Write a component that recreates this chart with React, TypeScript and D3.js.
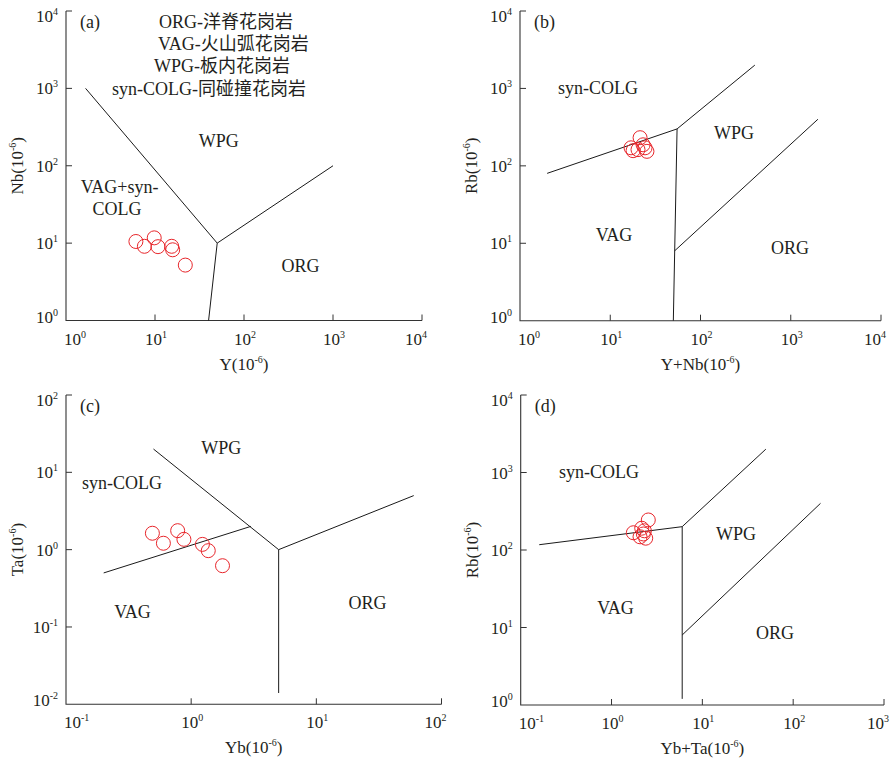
import React from "react";
import * as d3 from "d3";

// tectonic discrimination diagrams (Pearce et al.), sample values

// (a) Nb vs Y
const aY = [6.1, 7.6, 9.8, 10.8, 15.4, 15.8, 21.9];
const aNb = [10.5, 9.1, 11.7, 9.0, 9.1, 8.2, 5.2];
// (b) Rb vs Y+Nb
const bYNb = [21.4, 17.0, 17.9, 23.1, 25.5, 20.3, 24.3];
const bRb = [231, 171, 157, 187, 154, 162, 171];
// (c) Ta vs Yb
const cYb = [0.49, 0.6, 0.78, 0.875, 1.23, 1.37, 1.78];
const cTa = [1.63, 1.21, 1.76, 1.36, 1.17, 0.97, 0.62];
// (d) Rb vs Yb+Ta
const dYbTa = [2.54, 1.74, 2.15, 2.24, 2.38, 2.06, 2.3];
const dRb = [244, 167, 191, 161, 142, 148, 177];

// field boundaries, [x, y] pairs
const aLines = [
  [[1.66, 1000], [50, 10], [1000, 100]],
  [[50, 10], [40, 1]],
];
const bLines = [
  [[2, 80], [55, 300], [400, 2000]],
  [[55, 300], [50, 1]],
  [[51.8, 8], [2000, 400]],
];
const cLines = [
  [[0.2, 0.5], [3, 2]],
  [[0.5, 20], [5, 1], [60, 5]],
  [[5, 1], [5, 0.014]],
];
const dLines = [
  [[0.16, 117], [6, 200], [50, 2000]],
  [[6, 200], [6, 1.2]],
  [[6, 8], [200, 400]],
];

// decade exponents on the axes
const aXExp = [0, 1, 2, 3, 4];
const aYExp = [0, 1, 2, 3, 4];
const bXExp = [0, 1, 2, 3, 4];
const bYExp = [0, 1, 2, 3, 4];
const cXExp = [-1, 0, 1, 2];
const cYExp = [-2, -1, 0, 1, 2];
const dXExp = [-1, 0, 1, 2, 3];
const dYExp = [0, 1, 2, 3, 4];

// field names, placed in data units
const aFields = [
  { t: "WPG", x: 52, y: 206 },
  { t: "VAG+syn-", x: 4.0, y: 53 },
  { t: "COLG", x: 3.74, y: 28 },
  { t: "ORG", x: 431, y: 5.07 },
];
const bFields = [
  { t: "syn-COLG", x: 7.3, y: 1000 },
  { t: "WPG", x: 235, y: 267 },
  { t: "VAG", x: 11, y: 12.8 },
  { t: "ORG", x: 981, y: 8.8 },
];
const cFields = [
  { t: "WPG", x: 1.74, y: 20.7 },
  { t: "syn-COLG", x: 0.28, y: 7.3 },
  { t: "VAG", x: 0.34, y: 0.156 },
  { t: "ORG", x: 25.6, y: 0.206 },
];
const dFields = [
  { t: "syn-COLG", x: 0.726, y: 1024 },
  { t: "WPG", x: 23.5, y: 161 },
  { t: "VAG", x: 1.106, y: 17.7 },
  { t: "ORG", x: 63, y: 8.4 },
];

const legendText = ["ORG-洋脊花岗岩", "VAG-火山弧花岗岩", "WPG-板内花岗岩", "syn-COLG-同碰撞花岗岩"];

const FONT = '"Times New Roman", "Liberation Serif", "Noto Sans CJK SC", serif';
const INK = "#231f20";
const RED = "#e8262b";

type PanelProps = {
  letter: string;
  box: { left: number; right: number; top: number; bottom: number };
  xExp: number[];
  yExp: number[];
  xs: number[];
  ys: number[];
  lines: number[][][];
  fields: { t: string; x: number; y: number }[];
  xTitle: string;
  yTitle: string;
  legend?: boolean;
};

const Panel = ({ letter, box, xExp, yExp, xs, ys, lines, fields, xTitle, yTitle, legend }: PanelProps) => {
  const { left, right, top, bottom } = box;
  const x = d3.scaleLog().domain([10 ** xExp[0], 10 ** xExp[xExp.length - 1]]).range([left, right]);
  const y = d3.scaleLog().domain([10 ** yExp[0], 10 ** yExp[yExp.length - 1]]).range([bottom, top]);
  const line = d3.line<number[]>().x(d => x(d[0])).y(d => y(d[1]));

  return (
    <g fontFamily={FONT} fill={INK}>
      {/* axes */}
      <path d={`M${left},${top}V${bottom}H${right}`} fill="none" stroke="#333" strokeWidth={1.1} />
      {xExp.slice(1).map(e => (
        <line key={"xt" + e} x1={x(10 ** e)} x2={x(10 ** e)} y1={bottom} y2={bottom - 6} stroke="#333" />
      ))}
      {yExp.slice(1).map(e => (
        <line key={"yt" + e} x1={left} x2={left + 6} y1={y(10 ** e)} y2={y(10 ** e)} stroke="#333" />
      ))}
      {xExp.map((e, i) => {
        const px = x(10 ** e);
        const last = i === xExp.length - 1;
        const anchor = i === 0 ? "start" : last ? "end" : "middle";
        const tx = i === 0 ? px - 2 : last ? px + 5 : px + 1;
        return (
          <text key={"xl" + e} x={tx} y={bottom + 24} fontSize={17} textAnchor={anchor}>
            10<tspan fontSize={10} dy={-7}>{e}</tspan>
          </text>
        );
      })}
      {yExp.map((e, i) => {
        let py = y(10 ** e);
        if (i === 0) py -= 4;
        if (i === yExp.length - 1) py += 5;
        return (
          <text key={"yl" + e} x={left - 8} y={py + 6} fontSize={17} textAnchor="end">
            10<tspan fontSize={10} dy={-7}>{e}</tspan>
          </text>
        );
      })}

      {/* axis titles */}
      <text x={(left + right) / 2} y={bottom + 49} fontSize={17} textAnchor="middle">
        {xTitle}(10<tspan fontSize={10} dy={-7}>-6</tspan>
        <tspan dy={7}>)</tspan>
      </text>
      <text transform={`translate(${left - 49},${(top + bottom) / 2}) rotate(-90)`} dy={6} fontSize={17} textAnchor="middle">
        {yTitle}(10<tspan fontSize={10} dy={-7}>-6</tspan>
        <tspan dy={7}>)</tspan>
      </text>

      {/* field boundaries */}
      {lines.map((l, i) => (
        <path key={"b" + i} d={line(l) || ""} fill="none" stroke="#1a1a1a" strokeWidth={1} />
      ))}

      {/* field names */}
      {fields.map(f => (
        <text key={f.t} x={x(f.x)} y={y(f.y)} dy={6} fontSize={18} textAnchor="middle">
          {f.t}
        </text>
      ))}
      <text x={left + 14} y={top + 17} fontSize={18}>
        ({letter})
      </text>

      {legend &&
        legendText.map((t, i) => (
          <text key={t} x={left + [93, 92, 88, 46][i]} y={top + [10.7, 33, 55, 78][i] + 6} fontSize={18}>
            {t}
          </text>
        ))}

      {/* samples */}
      {xs.map((v, i) => (
        <circle key={"p" + i} cx={x(v)} cy={y(ys[i])} r={7} fill="none" stroke={RED} strokeWidth={1} />
      ))}
    </g>
  );
};

export default function App() {
  return (
    <svg width={893} height={759} style={{ position: "absolute", left: 0, top: 0, background: "#fff" }}>
      <Panel
        letter="a"
        box={{ left: 66, right: 422, top: 11, bottom: 320.5 }}
        xExp={aXExp}
        yExp={aYExp}
        xs={aY}
        ys={aNb}
        lines={aLines}
        fields={aFields}
        xTitle="Y"
        yTitle="Nb"
        legend
      />
      <Panel
        letter="b"
        box={{ left: 520, right: 881, top: 11, bottom: 320.7 }}
        xExp={bXExp}
        yExp={bYExp}
        xs={bYNb}
        ys={bRb}
        lines={bLines}
        fields={bFields}
        xTitle="Y+Nb"
        yTitle="Rb"
      />
      <Panel
        letter="c"
        box={{ left: 66, right: 441.5, top: 395, bottom: 704.3 }}
        xExp={cXExp}
        yExp={cYExp}
        xs={cYb}
        ys={cTa}
        lines={cLines}
        fields={cFields}
        xTitle="Yb"
        yTitle="Ta"
      />
      <Panel
        letter="d"
        box={{ left: 520.7, right: 884, top: 395, bottom: 705 }}
        xExp={dXExp}
        yExp={dYExp}
        xs={dYbTa}
        ys={dRb}
        lines={dLines}
        fields={dFields}
        xTitle="Yb+Ta"
        yTitle="Rb"
      />
    </svg>
  );
}
